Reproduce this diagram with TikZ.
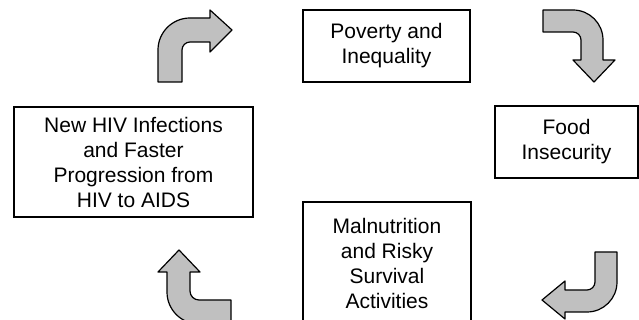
\documentclass[tikz,border=0pt]{standalone}
\usepackage{fontspec}
\setmainfont{Liberation Sans}
\definecolor{pfeilgrau}{RGB}{192,192,192}
\tikzset{
	kasten/.style={draw=black, line width=0.65pt, fill=white, align=center,
		inner sep=0pt, font=\fontsize{10.5}{12.5}\selectfont},
	% Text etwas tiefer setzen
	tiefer/.style={execute at begin node={\rule{0pt}{11pt}}},
	bogenpfeil/.style={draw=black, line width=0.6pt, fill=pfeilgrau,
		line join=round}
}
\begin{document}
\begin{tikzpicture}[x=0.5pt, y=-0.5pt]
	\useasboundingbox (0,0) rectangle (639,320);
	% Kaesten
	\node[kasten, tiefer, minimum width=83.5pt, minimum height=36pt] (armut)
	at (386.5, 46) {Poverty and\\Inequality};
	\node[kasten, tiefer, minimum width=71.5pt, minimum height=36pt]
	(ernaehrung) at (566.5, 142) {Food\\Insecurity};
	\node[kasten, minimum width=84pt, minimum height=61pt] (mangel) at (387,
	263) {Malnutrition\\and Risky\\Survival\\Activities};
	\node[kasten, tiefer, minimum width=119.5pt, minimum height=55pt] (hiv) at
	(133.5, 162) {New HIV Infections\\and Faster\\Progression from\\HIV to
	AIDS};

	% Pfeil oben links
	\filldraw[bogenpfeil] (158,82) -- (158,50) .. controls (158,32.3) and
	(172.3,18) .. (190,18) -- (210,18) -- (210,10) -- (232,30) -- (210,52) --
	(210,42) -- (190,42) .. controls (185.6,42) and (182,45.6) .. (182,50) --
	(182,82) -- cycle;
	% Pfeil oben rechts
	\filldraw[bogenpfeil] (543,10) -- (573,10) .. controls (589.6,10) and
	(603,23.4) .. (603,40) -- (603,60) -- (615,60) -- (594,82) -- (573,60) --
	(581,60) -- (581,40) .. controls (581,35.6) and (577.4,32) .. (573,32) --
	(543,32) -- cycle;
	% Pfeil unten rechts
	\filldraw[bogenpfeil] (595,252) -- (617,252) -- (617,282) .. controls
	(617,298.6) and (603.6,312) .. (587,312) -- (565,312) -- (565,319) --
	(542,300) -- (565,281) -- (565,290) -- (587,290) .. controls (591.4,290)
	and (595,286.4) .. (595,282) -- cycle;
	% Pfeil unten links
	\filldraw[bogenpfeil] (179,250) -- (200,272) -- (190,272) -- (190,291) ..
	controls (190,296) and (194,300) .. (199,300) -- (231,300) -- (231,324) --
	(199,324) .. controls (181.3,324) and (167,309.7) .. (167,292) --
	(167,272) -- (158,272) -- cycle;
\end{tikzpicture}
\end{document}
